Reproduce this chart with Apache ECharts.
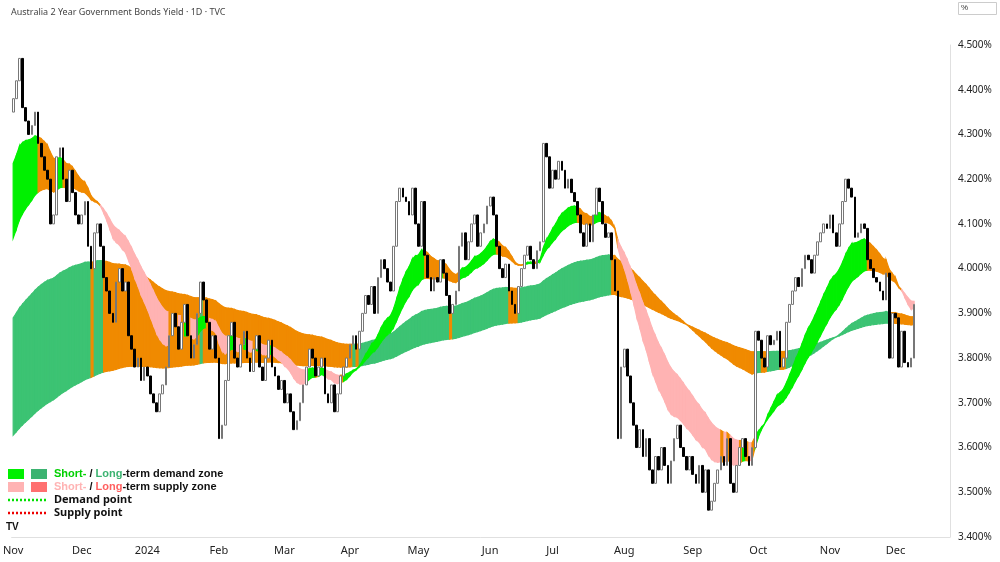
<!DOCTYPE html>
<html>
<head>
<meta charset="utf-8">
<script src="https://cdn.jsdelivr.net/npm/echarts@6/dist/echarts.min.js"></script>
<style>html,body{margin:0;padding:0;background:#fff}#main{width:1000px;height:562px}</style>
</head>
<body>
<div id="main"></div>
<script>
// daily closes by month
var closesNov23 = [4.38,4.42,4.47,4.36,4.33,4.30,4.32,4.35,4.28,4.25,4.22,4.20,4.10,4.12,4.25,4.27,4.20,4.15,4.22,4.17,4.12,4.10];
var closesDec23 = [4.12,4.15,4.05,4.00,4.08,4.10,4.05,3.98,3.95,3.90,3.88,3.97,4.00,3.95,3.97,3.85,3.82,3.78,3.80,3.75,3.78];
var closesJan24 = [3.76,3.72,3.70,3.68,3.72,3.74,3.78,3.85,3.90,3.87,3.82,3.88,3.92,3.85,3.80,3.83,3.90,3.97,3.93,3.88,3.82,3.85];
var closesFeb24 = [3.80,3.62,3.65,3.75,3.85,3.88,3.80,3.78,3.83,3.86,3.80,3.77,3.82,3.85,3.78,3.75,3.80,3.84,3.78,3.76,3.73];
var closesMar24 = [3.75,3.70,3.72,3.68,3.64,3.66,3.70,3.74,3.78,3.82,3.80,3.76,3.78,3.80,3.72,3.70,3.74,3.68,3.72,3.76];
var closesApr24 = [3.78,3.80,3.83,3.85,3.82,3.86,3.90,3.94,3.92,3.96,3.90,3.98,4.02,4.00,3.97,3.95,4.05,4.15,4.18,4.16,4.15,4.12];
var closesMay24 = [4.18,4.10,4.05,4.15,4.03,3.98,3.95,3.98,3.97,4.02,3.99,3.94,3.90,3.92,3.95,4.05,4.08,4.02,4.06,4.10,4.12,4.05,4.08];
var closesJun24 = [4.10,4.14,4.16,4.12,4.05,4.00,3.98,4.01,3.95,3.92,3.90,3.96,4.00,4.03,4.05,4.02,4.00,4.04,4.06,4.28];
var closesJul24 = [4.25,4.18,4.22,4.20,4.24,4.22,4.18,4.20,4.17,4.15,4.12,4.08,4.05,4.10,4.06,4.12,4.18,4.15,4.10,4.07,4.08,4.02,3.95];
var closesAug24 = [3.62,3.78,3.82,3.76,3.70,3.65,3.60,3.64,3.58,3.62,3.55,3.52,3.58,3.55,3.60,3.56,3.52,3.57,3.62,3.65,3.60,3.58];
var closesSep24 = [3.55,3.58,3.54,3.52,3.56,3.50,3.55,3.46,3.48,3.52,3.55,3.58,3.56,3.62,3.52,3.50,3.56,3.60,3.62,3.58,3.56];
var closesOct24 = [3.60,3.86,3.84,3.80,3.78,3.85,3.83,3.84,3.86,3.78,3.80,3.88,3.92,3.95,3.98,3.96,4.00,4.03,4.02,3.99,4.03,4.06,4.08];
var closesNov24 = [4.10,4.09,4.12,4.08,4.05,4.10,4.15,4.20,4.18,4.16,4.07,4.08,4.10,4.09,4.02,4.00,3.98,3.97,3.95,3.93,3.99];
var closesDec24 = [3.80,3.90,3.89,3.78,3.86,3.79,3.78,3.80,3.92];
var firstOpen = 4.35;
var shortSeed = [4.22, 4.05];   // short-term band edges before the window
var longSeed = [3.88, 3.62];    // long-term band edges before the window
var monthNames = ['2024','Feb','Mar','Apr','May','Jun','Jul','Aug','Sep','Oct','Nov','Dec'];

var closes = [].concat(closesNov23,closesDec23,closesJan24,closesFeb24,closesMar24,closesApr24,
  closesMay24,closesJun24,closesJul24,closesAug24,closesSep24,closesOct24,closesNov24,closesDec24);

// business days from 1 Nov 2023, plus some empty room on the right
var dates = [];
var d = new Date(2023,10,1);
while (dates.length < closes.length + 11) {
  var w = d.getDay();
  if (w !== 0 && w !== 6) dates.push(new Date(d));
  d.setDate(d.getDate()+1);
}
var cats = dates.map(function(x){ return x.getFullYear()+'-'+(x.getMonth()+1)+'-'+x.getDate(); });

var candles = closes.map(function(c,i){
  var o = i ? closes[i-1] : firstOpen;
  return [o, c, Math.min(o,c), Math.max(o,c)];
});

function ema(arr, n, seed) {
  var k = 2/(n+1), v = seed, out = [];
  arr.forEach(function(c){ v = v + k*(c-v); out.push(v); });
  return out;
}
var sFast = ema(closes, 20, shortSeed[0]), sSlow = ema(closes, 35, shortSeed[1]);
var lFast = ema(closes, 100, longSeed[0]), lSlow = ema(closes, 200, longSeed[1]);

function bandData(a, b, colorOf) {
  var out = [];
  for (var i = 0; i < a.length-1; i++) {
    out.push([i, Math.min(a[i],b[i]), Math.max(a[i],b[i]), Math.min(a[i+1],b[i+1]), Math.max(a[i+1],b[i+1]), colorOf(i)]);
  }
  return out;
}
var longBand = bandData(lFast, lSlow, function(i){
  return closes[i] > Math.max(lFast[i], lSlow[i]) ? '#3cc373' : '#f08a00';
});
var shortBand = bandData(sFast, sSlow, function(i){
  if (closes[i] > Math.max(sFast[i], sSlow[i])) return '#00f000';
  if (sFast[i] < sSlow[i] && closes[i] < Math.min(sFast[i], sSlow[i])) return '#ffb3b3';
  return '#f08a00';
});

function renderBand(params, api) {
  var x = api.value(0);
  var p1 = api.coord([x, api.value(1)]);
  var p2 = api.coord([x, api.value(2)]);
  var p3 = api.coord([x+1, api.value(4)]);
  var p4 = api.coord([x+1, api.value(3)]);
  var src = params.seriesName === 'short' ? shortBand : longBand;
  var col = src[params.dataIndex][5];
  return {
    type: 'polygon',
    shape: { points: [p1, p2, p3, p4] },
    style: { fill: col, stroke: col, lineWidth: 1.2 }
  };
}

var chart = echarts.init(document.getElementById('main'));
chart.setOption({
  animation: false,
  backgroundColor: '#fff',
  title: {
    text: 'Australia 2 Year Government Bonds Yield · 1D · TVC',
    left: 6, top: 3,
    textStyle: { fontSize: 9, fontWeight: 'normal', color: '#444', fontFamily: 'Noto Sans' }
  },
  grid: { left: 2, right: 50, top: 45, bottom: 25 },
  xAxis: {
    type: 'category', data: cats, boundaryGap: true,
    axisLine: { lineStyle: { color: '#e0e0e0' } },
    axisTick: { show: false },
    axisLabel: {
      interval: function(i){ return i === 0 || dates[i].getMonth() !== dates[i-1].getMonth(); },
      formatter: function(v, i){
        var dt = dates[i];
        if (i === 0) return 'Nov';
        return monthNames[dt.getMonth()];
      },
      color: '#222', fontSize: 11, fontFamily: 'Noto Sans', margin: 8
    },
    splitLine: { show: false }
  },
  yAxis: {
    type: 'value', position: 'right', min: 3.4, max: 4.5, interval: 0.1,
    axisLine: { show: true, lineStyle: { color: '#e0e0e0' } },
    axisTick: { show: false },
    axisLabel: { formatter: function(v){ return v.toFixed(3)+'%'; }, color: '#222', fontSize: 10, fontFamily: 'Noto Sans', margin: 8 },
    splitLine: { show: false }
  },
  series: [
    { name: 'long', type: 'custom', renderItem: renderBand, data: longBand, encode: { x: 0, y: [1,2] }, z: 1, silent: true },
    { name: 'short', type: 'custom', renderItem: renderBand, data: shortBand, encode: { x: 0, y: [1,2] }, z: 2, silent: true },
    {
      type: 'candlestick', data: candles, barWidth: 2.2, clip: false, z: 5,
      itemStyle: { color: '#fff', color0: '#000', borderColor: '#777', borderColor0: '#000', borderWidth: 1 }
    }
  ],
  graphic: [
    { type: 'rect', left: 958, top: 2, shape: { width: 38, height: 12 }, style: { fill: '#fff', stroke: '#ccc' } },
    { type: 'text', left: 961, top: 4, style: { text: '%', fontSize: 8, fill: '#333' } },
    { type: 'rect', left: 8, top: 469, shape: { width: 16, height: 10 }, style: { fill: '#00f000' } },
    { type: 'rect', left: 31, top: 469, shape: { width: 16, height: 10 }, style: { fill: '#3cb371' } },
    { type: 'rect', left: 8, top: 482, shape: { width: 16, height: 10 }, style: { fill: '#ffb3b3' } },
    { type: 'rect', left: 31, top: 482, shape: { width: 16, height: 10 }, style: { fill: '#ff7070' } },
    { type: 'text', left: 54, top: 468, style: { rich: { g: { fill: '#00d000', fontWeight: 'bold', fontSize: 11 }, k: { fill: '#111', fontWeight: 'bold', fontSize: 11 }, l: { fill: '#3cb371', fontWeight: 'bold', fontSize: 11 } },
      text: '{g|Short-}{k| / }{l|Long}{k|-term demand zone}', fontFamily: 'Noto Sans' } },
    { type: 'text', left: 54, top: 481, style: { rich: { g: { fill: '#ffb3b3', fontWeight: 'bold', fontSize: 11 }, k: { fill: '#111', fontWeight: 'bold', fontSize: 11 }, l: { fill: '#ff6060', fontWeight: 'bold', fontSize: 11 } },
      text: '{g|Short-}{k| / }{l|Long}{k|-term supply zone}', fontFamily: 'Noto Sans' } },
    { type: 'line', shape: { x1: 8, y1: 500, x2: 48, y2: 500 }, style: { stroke: '#00e000', lineWidth: 2.5, lineDash: [2, 2] } },
    { type: 'line', shape: { x1: 8, y1: 513, x2: 48, y2: 513 }, style: { stroke: '#ee0000', lineWidth: 2.5, lineDash: [2, 2] } },
    { type: 'text', left: 54, top: 494, style: { text: 'Demand point', fontSize: 11, fontWeight: 'bold', fill: '#111', fontFamily: 'Noto Sans' } },
    { type: 'text', left: 54, top: 507, style: { text: 'Supply point', fontSize: 11, fontWeight: 'bold', fill: '#111', fontFamily: 'Noto Sans' } },
    { type: 'text', left: 6, top: 522, style: { text: 'TV', fontSize: 10, fontWeight: 'bold', fill: '#111' } }
  ]
});
</script>
</body>
</html>
